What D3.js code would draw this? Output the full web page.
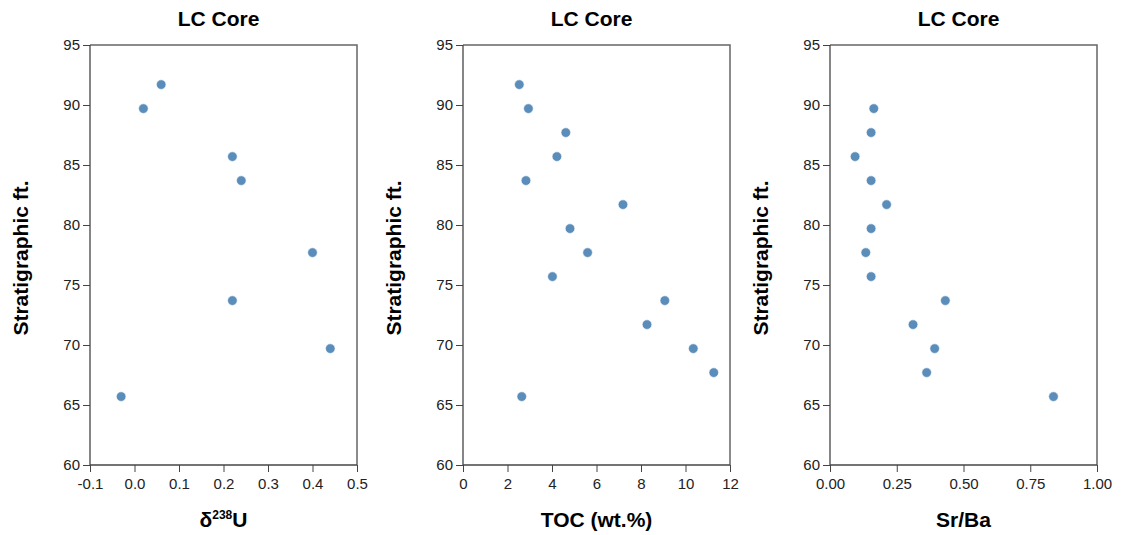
<!DOCTYPE html>
<html>
<head>
<meta charset="utf-8">
<script src="https://cdn.jsdelivr.net/npm/d3@7"></script>
<style>
  body { margin: 0; background: #fff; }
  svg { font-family: "Liberation Sans", Arial, sans-serif; }
</style>
</head>
<body>
<svg id="chart" width="1122" height="535"></svg>
<script>
// depths (Stratigraphic ft.)
var depthU = [91.7, 89.7, 85.7, 83.7, 77.7, 73.7, 69.7, 65.7]
var d238U = [0.06, 0.02, 0.22, 0.24, 0.40, 0.22, 0.44, -0.03]

var depthTOC = [91.7, 89.7, 87.7, 85.7, 83.7, 81.7, 79.7, 77.7, 75.7, 73.7, 71.7, 69.7, 67.7, 65.7]
var toc = [2.53, 2.94, 4.62, 4.22, 2.83, 7.19, 4.81, 5.6, 4.02, 9.07, 8.27, 10.35, 11.27, 2.64]

var depthSrBa = [89.7, 87.7, 85.7, 83.7, 81.7, 79.7, 77.7, 75.7, 73.7, 71.7, 69.7, 67.7, 65.7]
var srba = [0.164, 0.154, 0.094, 0.154, 0.212, 0.154, 0.134, 0.154, 0.432, 0.311, 0.392, 0.362, 0.837]

var yTicks = [60, 65, 70, 75, 80, 85, 90, 95]
var uTicks = [-0.1, 0.0, 0.1, 0.2, 0.3, 0.4, 0.5]
var tocTicks = [0, 2, 4, 6, 8, 10, 12]
var srbaTicks = [0, 0.25, 0.5, 0.75, 1.0]

// plain hyphen for negatives, like the original
function fix(n) { return function(d) { return d.toFixed(n) } }

var panels = [
  { left: 90, xs: d238U, ys: depthU, dom: [-0.1, 0.5], ticks: uTicks, fmt: fix(1), label: "U" },
  { left: 463, xs: toc, ys: depthTOC, dom: [0, 12], ticks: tocTicks, fmt: fix(0), label: "TOC (wt.%)" },
  { left: 830, xs: srba, ys: depthSrBa, dom: [0, 1], ticks: srbaTicks, fmt: fix(2), label: "Sr/Ba" }
]

var pw = 267, plotTop = 45, plotBottom = 465
var svg = d3.select("#chart")

var yScale = d3.scaleLinear().domain([60, 95]).range([plotBottom, plotTop])

panels.forEach(function(p, i) {
  var g = svg.append("g")
  var xScale = d3.scaleLinear().domain(p.dom).range([p.left, p.left + pw])

  // frame (top + right)
  g.append("path")
    .attr("d", "M" + p.left + "," + plotTop + "H" + (p.left + pw) + "V" + plotBottom)
    .attr("fill", "none").attr("stroke", "#666").attr("stroke-width", 1.5)

  var yAxis = d3.axisLeft(yScale).tickValues(yTicks).tickSize(7).tickPadding(3)
  var ya = g.append("g").attr("transform", "translate(" + p.left + ",0)").call(yAxis)

  var xAxis = d3.axisBottom(xScale).tickValues(p.ticks).tickFormat(p.fmt).tickSize(7).tickPadding(6)
  var xa = g.append("g").attr("transform", "translate(0," + plotBottom + ")").call(xAxis)

  ;[ya, xa].forEach(function(a) {
    a.attr("font-size", 15).attr("font-family", null)
    a.select(".domain").attr("stroke", "#444").attr("stroke-width", 1.3)
    a.selectAll(".tick line").attr("stroke", "#444")
    a.selectAll(".tick text").attr("fill", "#222")
  })
  ya.select(".domain").attr("d", "M0," + plotBottom + "V" + plotTop)
  xa.select(".domain").attr("d", "M" + p.left + ",0H" + (p.left + pw))

  // points
  g.selectAll("circle").data(p.xs).enter().append("circle")
    .attr("cx", function(d) { return xScale(d) })
    .attr("cy", function(d, j) { return yScale(p.ys[j]) })
    .attr("r", 4.8)
    .attr("fill", "#5b8dba")
    .attr("stroke", "#fff").attr("stroke-width", 0.6)

  // title
  g.append("text")
    .attr("x", p.left + pw / 2 - 5).attr("y", 26)
    .attr("text-anchor", "middle")
    .style("font-size", "21px").style("font-weight", "bold")
    .text("LC Core")

  // y label
  g.append("text")
    .attr("transform", "translate(" + (p.left - 62) + ",258) rotate(-90)")
    .attr("text-anchor", "middle")
    .style("font-size", "21px").style("font-weight", "bold")
    .text("Stratigraphic ft.")

  // x label
  var xl = g.append("text")
    .attr("x", p.left + pw / 2).attr("y", 527)
    .attr("text-anchor", "middle")
    .style("font-size", "21px").style("font-weight", "bold")
  if (i == 0) {
    xl.append("tspan").text("δ")
    xl.append("tspan").attr("dy", -8).style("font-size", "12px").text("238")
    xl.append("tspan").attr("dy", 8).text("U")
  } else {
    xl.text(p.label)
  }
})
</script>
</body>
</html>
